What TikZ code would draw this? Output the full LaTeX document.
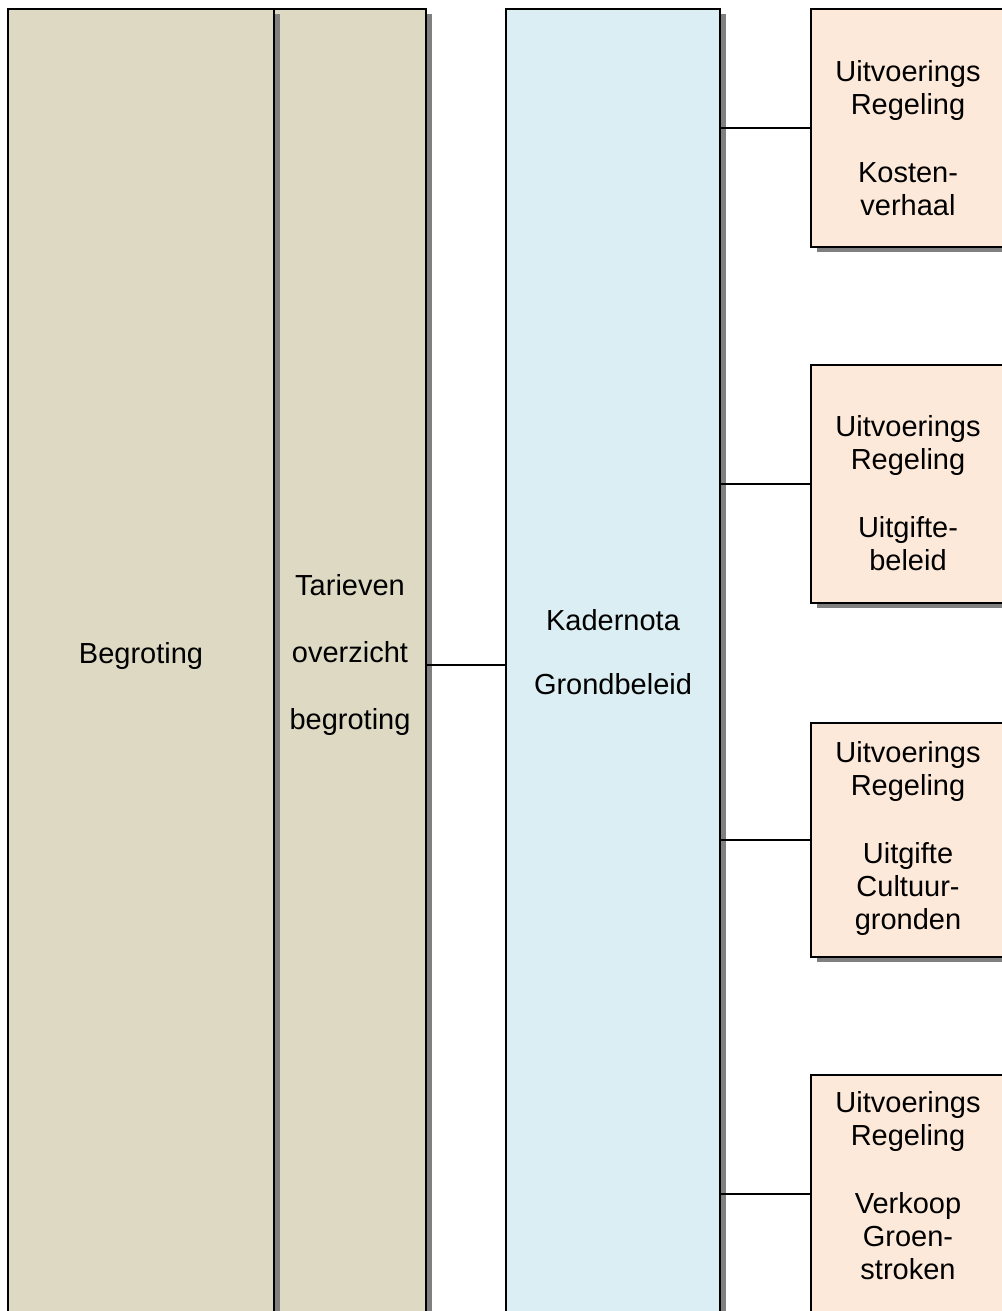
\documentclass[tikz,border=0pt]{standalone}
\usepackage{fontspec}
\setmainfont{Liberation Sans}
\usetikzlibrary{shadows}
\definecolor{tanfill}{HTML}{DDD9C3}
\definecolor{bluefill}{HTML}{DBEEF3}
\definecolor{peachfill}{HTML}{FDE9D9}
\definecolor{shadowgray}{HTML}{808080}
\begin{document}
\begin{tikzpicture}[x=1pt,y=-1pt,
  box/.style={draw, line width=2pt, rectangle, inner sep=0pt, outer sep=0pt,
    drop shadow={shadow xshift=6pt, shadow yshift=-5pt, fill=shadowgray, opacity=1}},
  tall/.style={box, minimum height=1312pt},
  rbox/.style={box, fill=peachfill, minimum width=194pt},
  txt/.style={font=\fontsize{29}{33}\selectfont, align=center, inner sep=0pt, outer sep=0pt},
  link/.style={line width=1.4pt}]
\useasboundingbox (0,0) rectangle (1001,1311);
% tall boxes
\node[tall, fill=tanfill, minimum width=152pt] (tar) at (350,665) {};
\node[tall, fill=tanfill, minimum width=266pt] (beg) at (141,665) {};
\node[tall, fill=bluefill, minimum width=214pt] (kad) at (613,665) {};
% right boxes
\node[rbox, minimum height=238pt] (r1) at (908,128) {};
\node[rbox, minimum height=238pt] (r2) at (908,484) {};
\node[rbox, minimum height=234pt] (r3) at (908,840) {};
\node[rbox, minimum height=238pt] (r4) at (908,1194) {};
% connectors
\draw[link] (tar.east) -- (kad.west);
\draw[link] (kad.east |- r1.west) -- (r1.west);
\draw[link] (kad.east |- r2.west) -- (r2.west);
\draw[link] (kad.east |- r3.west) -- (r3.west);
\draw[link] (kad.east |- r4.west) -- (r4.west);
% texts
\node[txt, anchor=base] (tbeg) at (141,663) {Begroting};
\node[txt, anchor=north] (ttar) at (350,574.9) {Tarieven\\[34pt]overzicht\\[34pt]begroting};
\node[txt, anchor=north] (tkad) at (613,609.9) {Kadernota\\[31pt]Grondbeleid};
\node[txt, anchor=north] (tr1) at (908,60.9) {Uitvoerings\\Regeling\\[35pt]Kosten-\\verhaal};
\node[txt, anchor=north] (tr2) at (908,415.9) {Uitvoerings\\Regeling\\[35pt]Uitgifte-\\beleid};
\node[txt, anchor=north] (tr3) at (908,741.9) {Uitvoerings\\Regeling\\[35pt]Uitgifte\\Cultuur-\\gronden};
\node[txt, anchor=north] (tr4) at (908,1091.9) {Uitvoerings\\Regeling\\[35pt]Verkoop\\Groen-\\stroken};
\end{tikzpicture}
\end{document}
